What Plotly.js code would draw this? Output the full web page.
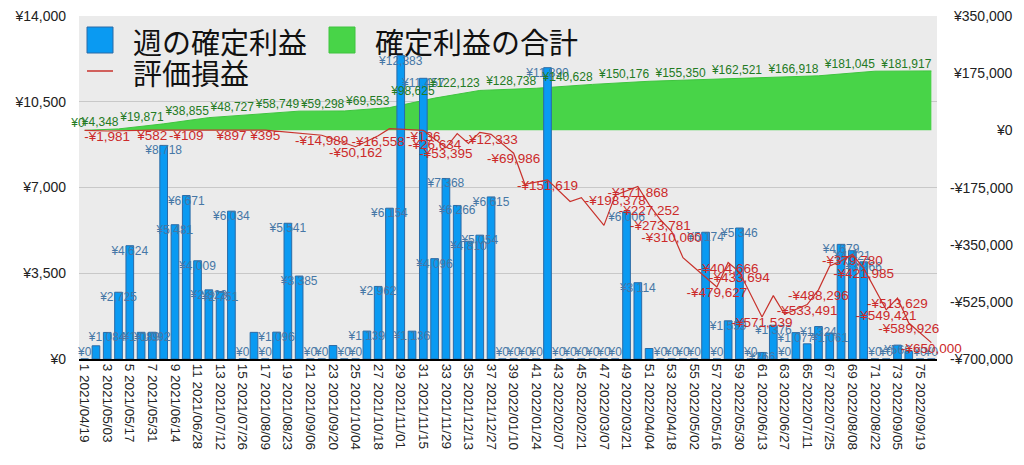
<!DOCTYPE html>
<html><head><meta charset="utf-8">
<script src="https://cdn.plot.ly/plotly-3.0.1.min.js"></script>
<style>html,body{margin:0;padding:0;background:#fff;}#chart{width:1024px;height:465px;}</style>
</head><body><div id="chart"></div>
<script>
// ---- data ----
const weeks = [
"1 2021/04/19","2 2021/04/26","3 2021/05/03","4 2021/05/10","5 2021/05/17","6 2021/05/24","7 2021/05/31","8 2021/06/07",
"9 2021/06/14","10 2021/06/21","11 2021/06/28","12 2021/07/05","13 2021/07/12","14 2021/07/19","15 2021/07/26","16 2021/08/02",
"17 2021/08/09","18 2021/08/16","19 2021/08/23","20 2021/08/30","21 2021/09/06","22 2021/09/13","23 2021/09/20","24 2021/09/27",
"25 2021/10/04","26 2021/10/11","27 2021/10/18","28 2021/10/25","29 2021/11/01","30 2021/11/08","31 2021/11/15","32 2021/11/22",
"33 2021/11/29","34 2021/12/06","35 2021/12/13","36 2021/12/20","37 2021/12/27","38 2022/01/03","39 2022/01/10","40 2022/01/17",
"41 2022/01/24","42 2022/01/31","43 2022/02/07","44 2022/02/14","45 2022/02/21","46 2022/02/28","47 2022/03/07","48 2022/03/14",
"49 2022/03/21","50 2022/03/28","51 2022/04/04","52 2022/04/11","53 2022/04/18","54 2022/04/25","55 2022/05/02","56 2022/05/09",
"57 2022/05/16","58 2022/05/23","59 2022/05/30","60 2022/06/06","61 2022/06/13","62 2022/06/20","63 2022/06/27","64 2022/07/04",
"65 2022/07/11","66 2022/07/18","67 2022/07/25","68 2022/08/01","69 2022/08/08","70 2022/08/15","71 2022/08/22","72 2022/08/29",
"73 2022/09/05","74 2022/09/12","75 2022/09/19","76 2022/09/26"];

const weeklyProfit = [
0,539,1084,2725,4624,1089,1092,8718,
5481,6671,4009,2823,2751,6034,0,1087,
0,1096,5541,3385,0,0,549,0,
0,1139,2962,6154,12383,1136,11457,4096,
7368,6266,4810,5054,6615,0,0,0,
0,11890,0,0,0,0,0,0,
6006,3114,428,0,0,0,0,5174,
0,1559,5346,0,266,1376,0,1077,
620,1324,1061,4679,4421,3966,0,0,
566,306,0,0];
const weeklyNoLabel = [2,16,23,51,65,74];

const cumWeekNo = [1,4,8,12,16,20,24,28,32,36,41,46,51,56,61,66,71,76];
const cumProfit = [0,4348,19871,38855,48727,58749,59298,69553,98625,122123,128738,140628,150176,155350,162521,166918,181045,181917];

const evalWeekNo = [1,3,7,10,14,17,22,25,27,28,31,32,33,34,35,36,37,39,40,42,44,45,47,48,50,51,52,53,54,55,57,58,59,61,62,63,65,66,67,68,69,70,72,73,74,76];
const evalPL = [0,-1981,582,-109,897,395,-14989,-50162,-16558,5000,-136,-26634,-53395,-10000,-40000,-6000,-12333,-69986,-165000,-151619,-218000,-206000,-291000,-198378,-171868,-227252,-273781,-310000,-390000,-420000,-479627,-404666,-433694,-571539,-506000,-563000,-533491,-488296,-415000,-400000,-379780,-421985,-549421,-513629,-589926,-650000];
const evalNoLabel = [1,28,34,35,36,40,44,45,47,54,55,62,63,67,68];

const leftTicks = [0,3500,7000,10500,14000];
const rightTicks = [-700000,-525000,-350000,-175000,0,175000,350000];

const legendNames = ["週の確定利益","確定利益の合計","評価損益"];

// ---- helpers ----
function yen(v){ return (v<0?'-':'') + '¥' + Math.abs(v).toLocaleString('en-US'); }
const L = 79, R = 1015, T = 16, B = 359;
const px = x => (x - L) / (R - L);
const py = y => (B - y) / (B - T);

const FONT = 'Liberation Sans, Arial, "Noto Sans CJK JP", sans-serif';
const CJK = '"Noto Sans CJK JP", "Noto Sans CJK SC", sans-serif';

const barColor = '#0a9af2';
const greenFill = '#48d448';
const redColor = '#c8322c';

const traces = [
  { // cumulative area (right scale)
    type:'scatter', mode:'lines', x: cumWeekNo.map(n => weeks[n-1]), y: cumProfit, yaxis:'y',
    fill:'tozeroy', fillcolor: greenFill, line:{color:'#3fc43f', width:1}, hoverinfo:'skip'
  },
  { // weekly bars (left scale)
    type:'bar', x: weeks, y: weeklyProfit, yaxis:'y2',
    marker:{color: barColor, line:{color:'#2a6aa6', width:1}}, hoverinfo:'skip'
  },
  { // weekly labels
    type:'scatter', mode:'text', x: weeks, y: weeklyProfit, yaxis:'y2',
    text: weeklyProfit.map((v,i) => weeklyNoLabel.includes(i+1) ? '' : yen(v)),
    textposition: weeklyProfit.map(v => v === 0 ? 'top center' : 'bottom center'),
    textfont:{family: FONT, size:12, color:'#4677a6'}, cliponaxis:false, hoverinfo:'skip'
  },
  { // evaluation P/L line
    type:'scatter', mode:'lines+text', x: evalWeekNo.map(n => weeks[n-1]), y: evalPL, yaxis:'y3',
    line:{color: redColor, width:1.2},
    text: evalPL.map((v,i) => evalNoLabel.includes(evalWeekNo[i]) ? '' : yen(v)),
    textposition:'bottom center',
    textfont:{family: FONT, size:13.5, color:'#cc2a2a'}, cliponaxis:false, hoverinfo:'skip'
  },
  { // cumulative labels
    type:'scatter', mode:'text', x: cumWeekNo.map(n => weeks[n-1]), y: cumProfit, yaxis:'y3',
    text: cumProfit.map(yen), textposition:'top left',
    textfont:{family: FONT, size:12, color:'#237a23'}, cliponaxis:false, hoverinfo:'skip'
  }
];

// right-hand scale labels, right-aligned at the page edge, placed on the right axis scale
const rightLabelAnnotations = rightTicks.map(v => ({
  xref:'paper', yref:'y', x:1, y:v, xanchor:'right', yanchor:'middle', showarrow:false,
  text: yen(v), font:{family: FONT, size:14, color:'#222'}
}));

const layout = {
  width:1024, height:465,
  margin:{l:L, r:1024-R, t:T, b:465-B, pad:0},
  paper_bgcolor:'#ffffff', plot_bgcolor:'#ebebeb',
  showlegend:false, hovermode:false, bargap:0.32,
  font:{family: FONT, size:14, color:'#222'},
  xaxis:{
    type:'category', categoryorder:'array', categoryarray: weeks,
    domain:[0, px(937)], range:[-0.5, weeks.length - 0.5],
    tickmode:'array', tickvals: weeks.filter((_,i) => i % 2 === 0), ticktext: weeks.filter((_,i) => i % 2 === 0),
    tickangle:90, tickfont:{family: FONT, size:13.5, color:'#222'},
    showline:true, linecolor:'#000', linewidth:2, ticks:'', showgrid:false, zeroline:false
  },
  yaxis:{
    range:[-700000, 350000], side:'right', anchor:'x',
    tickmode:'array', tickvals: rightTicks, showticklabels:false,
    showgrid:false, zeroline:false, showline:false, ticks:''
  },
  yaxis2:{
    range:[0, 14000], overlaying:'y', side:'left', anchor:'x',
    tickmode:'array', tickvals: leftTicks, ticktext: leftTicks.map(yen),
    showgrid:true, gridcolor:'#c8c8c8', gridwidth:1, zeroline:false, showline:false, ticks:'',
    ticklabelstandoff:12, tickfont:{family: FONT, size:14, color:'#222'}
  },
  yaxis3:{ range:[-700000, 350000], overlaying:'y', visible:false },
  shapes:[
    {type:'rect', xref:'paper', yref:'paper', x0:px(87), x1:px(113), y0:py(53), y1:py(27),
     fillcolor: barColor, line:{color:'#2a6aa6', width:1}},
    {type:'rect', xref:'paper', yref:'paper', x0:px(329), x1:px(355), y0:py(53), y1:py(27),
     fillcolor: greenFill, line:{color:'#3fc43f', width:1}},
    {type:'line', xref:'paper', yref:'paper', x0:px(87), x1:px(113), y0:py(71), y1:py(71),
     line:{color: redColor, width:1.5}}
  ],
  annotations:[
    {xref:'paper', yref:'paper', x:px(131), y:py(41), xanchor:'left', yanchor:'middle', showarrow:false,
     text: legendNames[0], font:{family: CJK, size:29, color:'#111'}},
    {xref:'paper', yref:'paper', x:px(373), y:py(41), xanchor:'left', yanchor:'middle', showarrow:false,
     text: legendNames[1], font:{family: CJK, size:29, color:'#111'}},
    {xref:'paper', yref:'paper', x:px(131), y:py(72), xanchor:'left', yanchor:'middle', showarrow:false,
     text: legendNames[2], font:{family: CJK, size:29, color:'#111'}}
  ].concat(rightLabelAnnotations)
};

Plotly.newPlot('chart', traces, layout, {displayModeBar:false, staticPlot:true});
</script>
</body></html>
